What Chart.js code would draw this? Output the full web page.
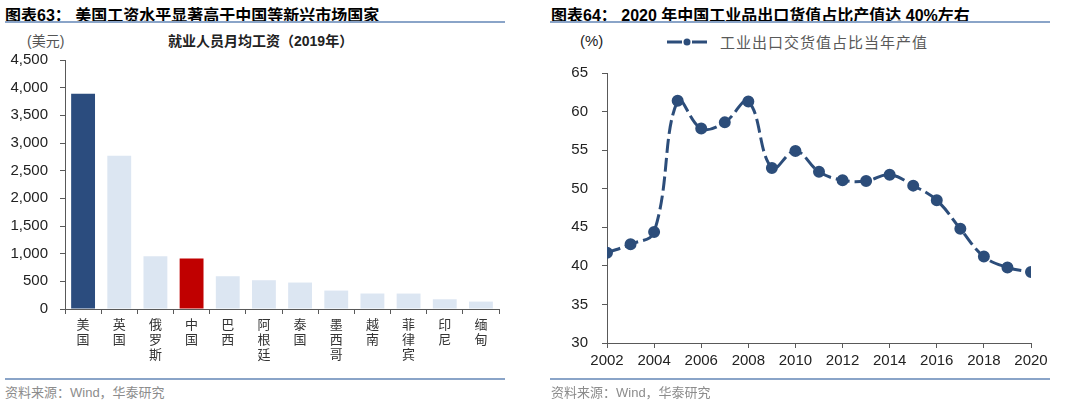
<!DOCTYPE html>
<html>
<head>
<meta charset="utf-8">
<script src="https://cdn.jsdelivr.net/npm/chart.js@4"></script>
<style>
  body { margin: 0; width: 1080px; height: 404px; background: #fff; position: relative; overflow: hidden;
         font-family: "Liberation Sans", "Noto Sans CJK SC", sans-serif; }
  .title { position: absolute; top: 2px; font-size: 16px; font-weight: bold; color: #000; white-space: nowrap; }
  .rule { position: absolute; height: 2px; background: #8aa4c8; }
  .source { position: absolute; top: 382px; font-size: 13px; color: #8c8c8c; white-space: nowrap; }
  .note { position: absolute; white-space: nowrap; }
  .box { position: absolute; }
</style>
</head>
<body>
<div class="title" style="left:5px">图表63：&nbsp;美国工资水平显著高于中国等新兴市场国家</div>
<div class="title" style="left:551px">图表64：&nbsp;2020 年中国工业品出口货值占比产值达 40%左右</div>
<div class="rule" style="left:5px;top:21px;width:500px"></div>
<div class="rule" style="left:550px;top:21px;width:500px"></div>

<div class="note" style="left:27px;top:30px;font-size:14px;color:#555">(美元)</div>
<div class="note" style="left:168px;top:30px;font-size:14px;color:#222;font-weight:bold">就业人员月均工资（2019年）</div>
<div class="note" style="left:580px;top:32px;font-size:15px;color:#222">(%)</div>
<div class="note" style="left:667px;top:31px;height:22px;width:270px">
  <canvas id="legendMark" width="42" height="22" style="position:absolute;left:0;top:0"></canvas>
  <span style="position:absolute;left:53px;top:0;font-size:15px;color:#595959;letter-spacing:1px">工业出口交货值占比当年产值</span>
</div>

<!-- box tops allow for the y-axis label padding Chart.js reserves above the chart area -->
<div class="box" style="left:0;top:39px;width:520px;height:341px"><canvas id="wageChart"></canvas></div>
<div class="box" style="left:540px;top:50px;width:540px;height:330px"><canvas id="exportChart"></canvas></div>

<div class="rule" style="left:5px;top:378px;width:500px"></div>
<div class="rule" style="left:550px;top:378px;width:500px"></div>
<div class="source" style="left:5px">资料来源：Wind，华泰研究</div>
<div class="source" style="left:551px">资料来源：Wind，华泰研究</div>

<script>
// left chart: monthly wage by country, USD (2019)
const countries = ['美国', '英国', '俄罗斯', '中国', '巴西', '阿根廷', '泰国', '墨西哥', '越南', '菲律宾', '印尼', '缅甸'];
const wages = [3890, 2770, 955, 913, 592, 520, 478, 333, 280, 279, 176, 134];
const wageTicks = [0, 500, 1000, 1500, 2000, 2500, 3000, 3500, 4000, 4500];

// right chart: industrial export delivery value as % of output
const years = [2002, 2003, 2004, 2005, 2006, 2007, 2008, 2009, 2010, 2011, 2012, 2013, 2014, 2015, 2016, 2017, 2018, 2019, 2020];
const exportShare = [41.7, 42.8, 44.4, 61.4, 57.8, 58.6, 61.3, 52.7, 54.9, 52.2, 51.1, 51.0, 51.8, 50.4, 48.5, 44.8, 41.2, 39.8, 39.2];
const yearTicks = [2002, 2004, 2006, 2008, 2010, 2012, 2014, 2016, 2018, 2020];
const shareTicks = [30, 35, 40, 45, 50, 55, 60, 65];

const axisColor = '#595959';
const lineColor = '#2c4d7a';
const tickFont = { family: "'Liberation Sans', Arial, sans-serif", size: 15 };

const barColor = name => name === '美国' ? '#2b4c7e' : name === '中国' ? '#c00000' : '#dce6f2';

new Chart(document.getElementById('wageChart'), {
    type: 'bar',
    data: {
        labels: countries.map(c => c.split('')),
        datasets: [{
            data: wages,
            backgroundColor: countries.map(barColor),
            categoryPercentage: 1,
            barPercentage: 0.66
        }]
    },
    options: {
        responsive: true,
        maintainAspectRatio: false,
        animation: false,
        layout: { padding: { top: 0, right: 21, left: 0, bottom: 0 } },
        plugins: { legend: { display: false }, tooltip: { enabled: false } },
        scales: {
            x: {
                afterFit: s => { s.height = 71; },
                grid: { drawOnChartArea: false, tickLength: 5, color: axisColor, offset: true },
                border: { color: axisColor },
                ticks: {
                    maxRotation: 0, autoSkip: false, padding: 3, color: '#333',
                    font: { family: "'Noto Sans CJK SC', sans-serif", size: 13, lineHeight: 1.15 }
                }
            },
            y: {
                min: 0, max: 4500,
                afterFit: s => { s.width = 65; },
                afterBuildTicks: s => { s.ticks = wageTicks.map(v => ({ value: v })); },
                grid: { drawOnChartArea: false, tickLength: 5, color: axisColor },
                border: { color: axisColor },
                ticks: {
                    padding: 12, color: '#222', font: tickFont,
                    callback: v => v.toLocaleString('en-US')
                }
            }
        }
    }
});

new Chart(document.getElementById('exportChart'), {
    type: 'line',
    data: {
        datasets: [{
            data: years.map((y, i) => ({ x: y, y: exportShare[i] })),
            borderColor: lineColor,
            backgroundColor: lineColor,
            borderWidth: 3,
            borderDash: [14, 5],
            pointRadius: 4.5,
            pointBackgroundColor: lineColor,
            pointBorderColor: lineColor,
            tension: 0.4
        }]
    },
    options: {
        responsive: true,
        maintainAspectRatio: false,
        animation: false,
        layout: { padding: { top: 0, right: 49, left: 0, bottom: 0 } },
        plugins: { legend: { display: false }, tooltip: { enabled: false } },
        scales: {
            x: {
                type: 'linear', min: 2002, max: 2020,
                afterFit: s => { s.height = 37; },
                afterBuildTicks: s => { s.ticks = yearTicks.map(v => ({ value: v })); },
                grid: { drawOnChartArea: false, tickLength: 5, color: axisColor },
                border: { color: axisColor },
                ticks: { padding: 4, color: '#222', font: tickFont, maxRotation: 0, callback: v => String(v) }
            },
            y: {
                min: 30, max: 65,
                afterFit: s => { s.width = 67; },
                afterBuildTicks: s => { s.ticks = shareTicks.map(v => ({ value: v })); },
                grid: { drawOnChartArea: false, tickLength: 5, color: axisColor },
                border: { color: axisColor },
                ticks: { padding: 14, color: '#222', font: tickFont }
            }
        }
    }
});

// legend marker: dashed line with a dot, same style as the series
const lg = document.getElementById('legendMark').getContext('2d');
lg.strokeStyle = lineColor;
lg.lineWidth = 3;
lg.beginPath(); lg.moveTo(0, 11); lg.lineTo(15, 11); lg.moveTo(25, 11); lg.lineTo(40, 11); lg.stroke();
lg.fillStyle = lineColor;
lg.beginPath(); lg.arc(20, 11, 3.5, 0, Math.PI * 2); lg.fill();
</script>
</body>
</html>
